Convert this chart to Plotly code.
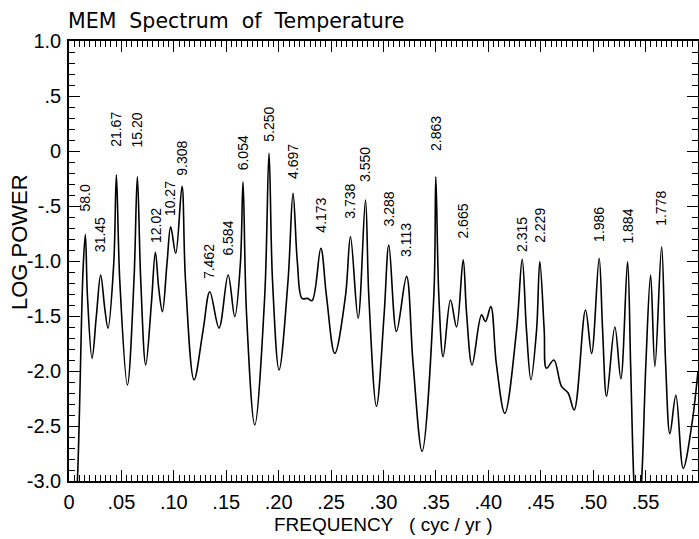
import plotly.graph_objects as go

# ---- data ----
freq = [0.0040, 0.0080, 0.0134, 0.0156, 0.0176, 0.0220, 0.0261, 0.0302, 0.0341, 0.0372,
        0.0427, 0.0452, 0.0484, 0.0557, 0.0620, 0.0652, 0.0684, 0.0732, 0.0786, 0.0824,
        0.0856, 0.0891, 0.0935, 0.0970, 0.1018, 0.1078, 0.1111, 0.1193, 0.1279, 0.1343,
        0.1431, 0.1518, 0.1581, 0.1635, 0.1660, 0.1693, 0.1772, 0.1867, 0.1908, 0.1941,
        0.2004, 0.2090, 0.2137, 0.2179, 0.2223, 0.2275, 0.2319, 0.2402, 0.2456, 0.2535,
        0.2637, 0.2685, 0.2758, 0.2828, 0.2860, 0.2933, 0.3005, 0.3051, 0.3124, 0.3220,
        0.3282, 0.3368, 0.3480, 0.3499, 0.3528, 0.3569, 0.3639, 0.3697, 0.3760, 0.3792,
        0.3845, 0.3935, 0.3973, 0.4024, 0.4076, 0.4157, 0.4269, 0.4323, 0.4364, 0.4406,
        0.4460, 0.4491, 0.4533, 0.4555, 0.4625, 0.4698, 0.4761, 0.4819, 0.4927, 0.4985,
        0.5057, 0.5090, 0.5128, 0.5207, 0.5264, 0.5328, 0.5357, 0.5388, 0.5420, 0.5462,
        0.5503, 0.5548, 0.5589, 0.5653, 0.5691, 0.5732, 0.5789, 0.5859, 0.5939, 0.6000]
log_power = [-3.60, -3.00, -1.08, -0.76, -1.32, -1.885, -1.50, -1.127, -1.43, -1.61,
             -1.02, -0.218, -1.17, -2.127, -1.17, -0.233, -1.17, -1.945, -1.385, -0.92,
             -1.25, -1.46, -1.02, -0.69, -0.93, -0.32, -1.17, -2.08, -1.63, -1.28,
             -1.61, -1.127, -1.506, -1.02, -0.28, -1.47, -2.49, -1.32, -0.02, -1.17,
             -1.99, -1.17, -0.385, -1.02, -1.34, -1.34, -1.36, -0.885, -1.32, -1.84,
             -1.32, -0.78, -1.52, -0.445, -1.32, -2.32, -1.50, -0.855, -1.64, -1.14,
             -1.93, -2.73, -1.32, -0.234, -1.32, -1.87, -1.355, -1.60, -0.99, -1.47,
             -1.945, -1.49, -1.55, -1.415, -1.93, -2.385, -1.63, -0.985, -1.63, -2.08,
             -1.63, -1.005, -1.63, -1.975, -1.90, -2.14, -2.20, -2.355, -1.445, -1.84,
             -0.975, -1.63, -2.23, -1.60, -2.07, -1.005, -1.93, -3.00, -3.50, -3.00,
             -1.93, -1.127, -1.96, -0.87, -1.93, -2.57, -2.22, -2.885, -2.50, -2.00]

period_labels = ["58.0", "31.45", "21.67", "15.20", "12.02", "10.27", "9.308", "7.462",
                 "6.584", "6.054", "5.250", "4.697", "4.173", "3.738", "3.550", "3.288",
                 "3.113", "2.863", "2.665", "2.315", "2.229", "1.986", "1.884", "1.778"]
peak_freq = [0.0156, 0.0302, 0.0452, 0.0652, 0.0824, 0.0970, 0.1078, 0.1343, 0.1518, 0.1660,
             0.1908, 0.2137, 0.2402, 0.2685, 0.2828, 0.3051, 0.3220, 0.3499, 0.3760, 0.4323,
             0.4491, 0.5057, 0.5328, 0.5653]
peak_power = [-0.76, -1.127, -0.218, -0.233, -0.92, -0.69, -0.32, -1.28, -1.127, -0.28,
              -0.02, -0.385, -0.885, -0.78, -0.445, -0.855, -1.14, -0.234, -0.99, -0.985,
              -1.005, -0.975, -1.005, -0.87]

x_tick_vals = [0, 0.05, 0.10, 0.15, 0.20, 0.25, 0.30, 0.35, 0.40, 0.45, 0.50, 0.55]
x_tick_text = ["0", ".05", ".10", ".15", ".20", ".25", ".30", ".35", ".40", ".45", ".50", ".55"]
y_tick_vals = [1.0, 0.5, 0.0, -0.5, -1.0, -1.5, -2.0, -2.5, -3.0]
y_tick_text = ["1.0", ".5", "0", "-.5", "-1.0", "-1.5", "-2.0", "-2.5", "-3.0"]

# ---- styling ----
FONT = "Liberation Sans, Arial, Helvetica, sans-serif"
TITLE_FONT = "DejaVu Sans, Liberation Sans, sans-serif"
label_gap_px = [22, 22, 27, 28, 8, 10, 9, 12, 18, 10, 10, 13, 15, 17, 17, 18, 18, 25, 20, 6,
                18, 15, 17, 20]

fig = go.Figure()
fig.add_trace(go.Scatter(
    x=freq, y=log_power, mode="lines",
    line=dict(color="black", width=1.6, shape="spline", smoothing=1.0),
    hoverinfo="skip", showlegend=False,
))

annotations = []
for lab, fx, py, gap in zip(period_labels, peak_freq, peak_power, label_gap_px):
    annotations.append(dict(
        x=fx, y=py, xref="x", yref="y", text=lab, showarrow=False,
        textangle=-90, xanchor="center", yanchor="bottom", yshift=gap,
        font=dict(family=FONT, size=14, color="black"), borderpad=0,
    ))

annotations.append(dict(
    x=0, y=1, xref="paper", yref="paper", xanchor="left", yanchor="bottom",
    xshift=-3, yshift=6, showarrow=False,
    text="MEM\u00a0\u00a0Spectrum\u00a0\u00a0of\u00a0\u00a0Temperature",
    font=dict(family=TITLE_FONT, size=20.5, color="black"),
))
annotations.append(dict(
    x=0.5, y=0, xref="paper", yref="paper", xanchor="center", yanchor="middle",
    yshift=-43, showarrow=False,
    text="FREQUENCY\u00a0\u00a0\u00a0(\u00a0cyc\u00a0/\u00a0yr\u00a0)",
    font=dict(family=FONT, size=19, color="black"),
))
annotations.append(dict(
    x=0, y=0.543, xref="paper", yref="paper", xanchor="center", yanchor="middle",
    xshift=-50, showarrow=False, textangle=-90,
    text="LOG POWER",
    font=dict(family=FONT, size=22, color="black"),
))

axis_common = dict(
    showgrid=False, zeroline=False, showline=True, linecolor="black", linewidth=1.6,
    mirror="ticks", ticks="inside", tickcolor="black", tickwidth=1.3, automargin=False,
    tickfont=dict(family=FONT, size=20, color="black"),
)
fig.update_xaxes(
    range=[0, 0.6], tickmode="array", tickvals=x_tick_vals, ticktext=x_tick_text,
    ticklen=11, ticklabelstandoff=2,
    minor=dict(tickmode="linear", tick0=0, dtick=0.005, ticks="inside", ticklen=6,
               tickcolor="black", tickwidth=1.0, showgrid=False),
    **axis_common,
)
fig.update_yaxes(
    range=[-3, 1], tickmode="array", tickvals=y_tick_vals, ticktext=y_tick_text,
    ticklen=11, ticklabelstandoff=2,
    minor=dict(tickmode="linear", tick0=0, dtick=0.1, ticks="inside", ticklen=6,
               tickcolor="black", tickwidth=1.0, showgrid=False),
    **axis_common,
)
fig.update_layout(
    width=699, height=539, autosize=False,
    margin=dict(l=69, r=1, t=41, b=58),
    paper_bgcolor="white", plot_bgcolor="white",
    annotations=annotations,
    font=dict(family=FONT, color="black"),
)
# remove the default page margin so the 699x539 figure fills the window exactly
fig.write_html(
    "out.html",
    config={"displayModeBar": False},
    post_script="document.body.style.margin='0';document.body.style.overflow='hidden';",
)
